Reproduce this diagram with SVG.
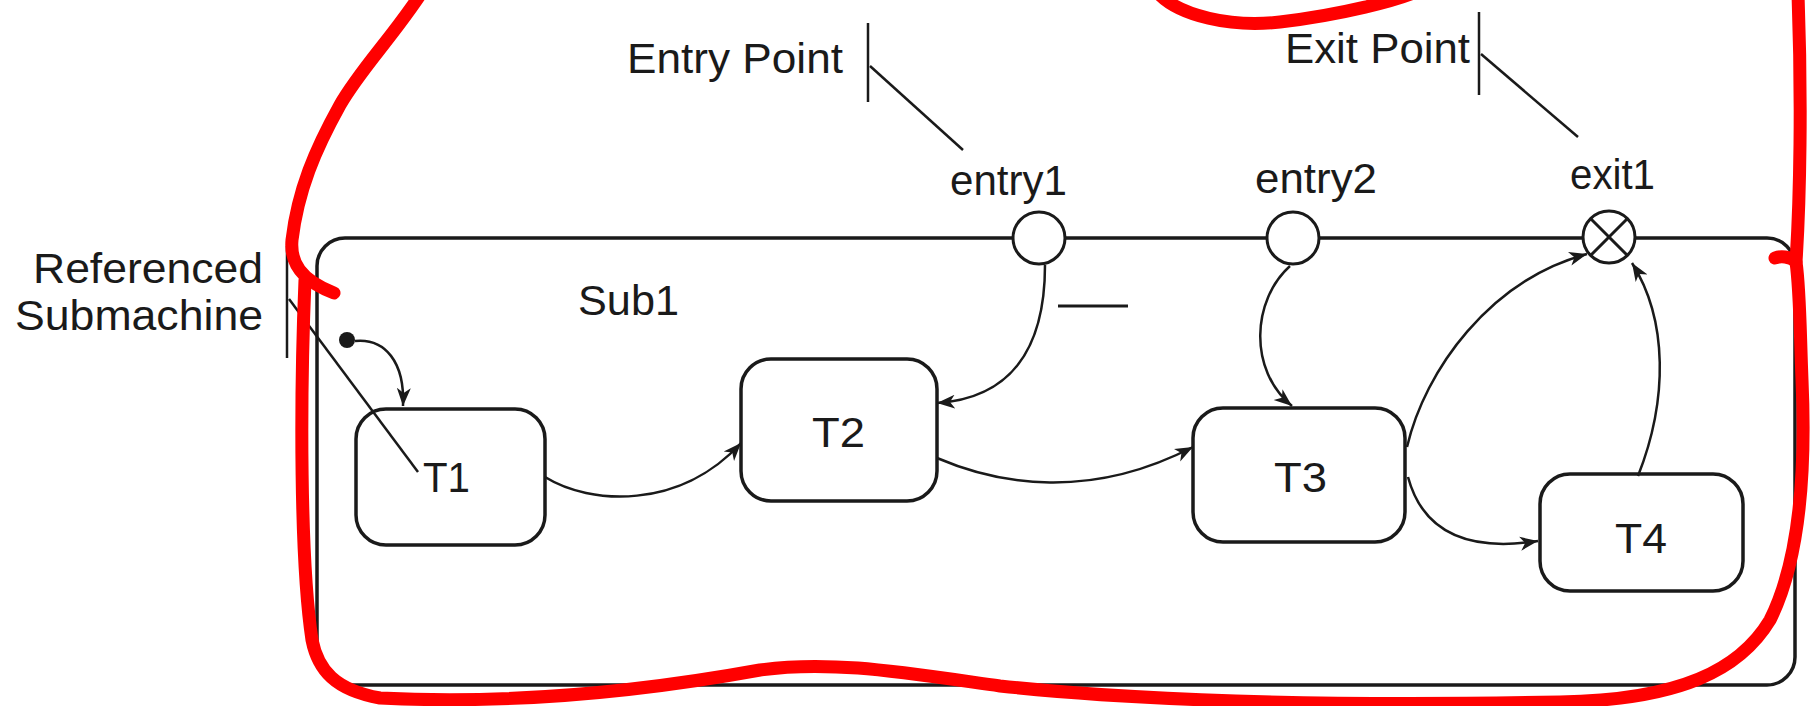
<svg xmlns="http://www.w3.org/2000/svg" width="1819" height="706" viewBox="0 0 1819 706">
<defs>
<style>
.t{font-family:"Liberation Sans",Arial,Helvetica,sans-serif;font-size:42px;fill:#1a1a1a}
.state{fill:#fff;stroke:#1a1a1a;stroke-width:3.5}
.conn{fill:none;stroke:#1a1a1a;stroke-width:2.5}
.lead{fill:none;stroke:#1a1a1a;stroke-width:2.5}
.pt{fill:#fff;stroke:#1a1a1a;stroke-width:3}
.red{fill:none;stroke:#ff0000;stroke-width:13;stroke-linecap:round;stroke-linejoin:round}
</style>
<marker id="arr" markerUnits="userSpaceOnUse" markerWidth="20" markerHeight="16" viewBox="0 0 20 16" refX="18" refY="8" orient="auto">
<path d="M0,1 L18,8 L0,15 L5,8 Z" fill="#1a1a1a"/>
</marker>
</defs>
<rect width="1819" height="706" fill="#fff"/>

<g id="frame">
<rect x="317" y="238" width="1478" height="447" rx="28" ry="28" fill="none" stroke="#1a1a1a" stroke-width="3.5"/>
<text class="t" x="578" y="315" textLength="101" lengthAdjust="spacingAndGlyphs">Sub1</text>
</g>

<g id="annot-entry">
<text class="t" x="627" y="73" textLength="216" lengthAdjust="spacingAndGlyphs">Entry Point</text>
<line class="lead" x1="868" y1="23" x2="868" y2="102"/>
<line class="lead" x1="870" y1="66" x2="963" y2="150"/>
</g>

<g id="annot-exit">
<text class="t" x="1285" y="63" textLength="185" lengthAdjust="spacingAndGlyphs">Exit Point</text>
<line class="lead" x1="1479" y1="12" x2="1479" y2="95"/>
<line class="lead" x1="1481" y1="54" x2="1578" y2="137"/>
</g>

<g id="initial">
<circle cx="347" cy="340" r="8" fill="#1a1a1a"/>
</g>

<g id="entry1">
<circle class="pt" cx="1039" cy="238" r="26"/>
<text class="t" x="950" y="195" textLength="117" lengthAdjust="spacingAndGlyphs">entry1</text>
</g>

<g id="entry2">
<circle class="pt" cx="1293" cy="238" r="26"/>
<text class="t" x="1255" y="193" textLength="122" lengthAdjust="spacingAndGlyphs">entry2</text>
</g>

<g id="exit1">
<circle class="pt" cx="1609" cy="237" r="26"/>
<line x1="1591" y1="219" x2="1627" y2="255" stroke="#1a1a1a" stroke-width="3"/>
<line x1="1627" y1="219" x2="1591" y2="255" stroke="#1a1a1a" stroke-width="3"/>
<text class="t" x="1570" y="189" textLength="85" lengthAdjust="spacingAndGlyphs">exit1</text>
</g>

<g id="T1">
<rect class="state" x="356" y="409" width="189" height="136" rx="30" ry="30"/>
<text class="t" x="423" y="492" textLength="47" lengthAdjust="spacingAndGlyphs">T1</text>
</g>

<g id="T2">
<rect class="state" x="741" y="359" width="196" height="142" rx="30" ry="30"/>
<text class="t" x="812" y="447" textLength="53" lengthAdjust="spacingAndGlyphs">T2</text>
</g>

<g id="T3">
<rect class="state" x="1193" y="408" width="212" height="134" rx="30" ry="30"/>
<text class="t" x="1274" y="492" textLength="53" lengthAdjust="spacingAndGlyphs">T3</text>
</g>

<g id="T4">
<rect class="state" x="1540" y="474" width="203" height="117" rx="30" ry="30"/>
<text class="t" x="1615" y="553" textLength="52" lengthAdjust="spacingAndGlyphs">T4</text>
</g>

<g id="annot-submachine">
<text class="t" x="33" y="283" textLength="230" lengthAdjust="spacingAndGlyphs">Referenced</text>
<text class="t" x="15" y="330" textLength="248" lengthAdjust="spacingAndGlyphs">Submachine</text>
<line class="lead" x1="287" y1="246" x2="287" y2="358"/>
<line class="lead" x1="289" y1="299" x2="418" y2="472"/>
</g>

<g id="connectors">
<path class="conn" d="M355,341 C385,338 405,362 403,406" marker-end="url(#arr)"/>
<path class="conn" d="M545,477 C590,505 680,510 741,443" marker-end="url(#arr)"/>
<path class="conn" d="M1045,265 C1045,350 1010,398 937,403" marker-end="url(#arr)"/>
<path class="conn" d="M937,458 C1000,485 1090,500 1193,447" marker-end="url(#arr)"/>
<path class="conn" d="M1290,266 C1252,300 1248,370 1292,406" marker-end="url(#arr)"/>
<path class="conn" d="M1407,447 C1425,370 1490,280 1587,254" marker-end="url(#arr)"/>
<path class="conn" d="M1408,477 C1425,540 1480,550 1538,541" marker-end="url(#arr)"/>
<path class="conn" d="M1638,476 C1668,400 1668,320 1632,263" marker-end="url(#arr)"/>
<line x1="1058" y1="306" x2="1128" y2="306" stroke="#1a1a1a" stroke-width="3"/>
</g>

<g id="red-outline">
<path class="red" d="M420,-5 C390,40 360,70 340,105 C315,150 298,190 292,240 C290,262 300,280 334,293"/>
<path class="red" d="M305,280 C300,400 300,560 312,640 C318,670 335,690 380,698 C520,705 650,690 760,670 C830,660 900,672 1000,686 C1150,702 1350,706 1560,702 C1680,700 1740,670 1770,620 C1800,560 1806,470 1802,380 C1800,330 1800,290 1796,262 C1790,256 1780,256 1775,258"/>
<path class="red" d="M1796,262 C1800,200 1802,100 1798,-5"/>
<path class="red" d="M1160,-5 C1180,15 1230,28 1280,22 C1340,15 1400,0 1420,-10"/>
</g>
</svg>
